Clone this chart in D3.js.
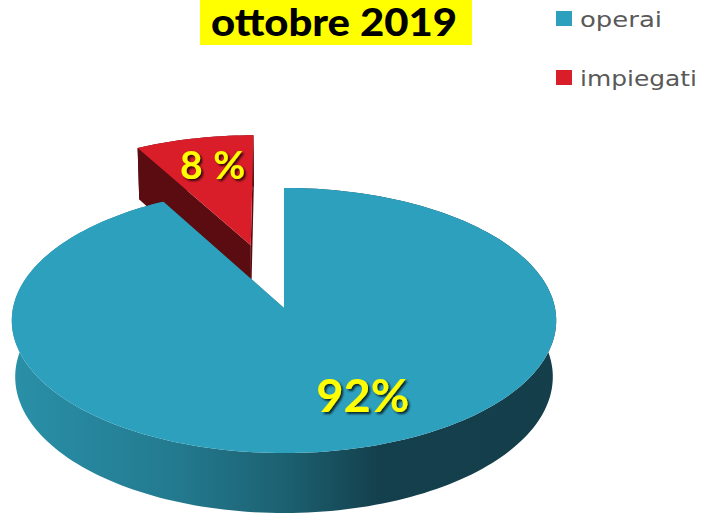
<!DOCTYPE html>
<html>
<head>
<meta charset="utf-8">
<script src="https://cdn.jsdelivr.net/npm/d3@7"></script>
<style>
  html, body { margin: 0; padding: 0; background: #ffffff; }
  svg { display: block; }
</style>
</head>
<body>
<svg id="chart" width="701" height="515"></svg>
<script>
// ---- data ----
const title = "ottobre 2019";
const categories = ["operai", "impiegati"];
const values = [92, 8];
const valueLabels = ["92%", "8%"];

// ---- styles ----
const topColors = ["#2da0bd", "#d91e2a"];
const sideColors = ["#1d6676", "#5a0c10"];
const explodeDist = [0, 140];
const labelRadius = [0.6, 0.62];
const labelShift = [[36, 6], [-2, -13]];
const labelSizes = [45, 39];
const labelWidths = [93, 65];
const labelAdjust = ["spacingAndGlyphs", "spacing"];

const W = 701, H = 515;
const svg = d3.select("#chart");
const defs = svg.append("defs");

// perspective projection of the 3D pie
const cx = 284, cy = 308, R = 271, thick = 65;
const phi = 29 * Math.PI / 180, D = 2514;
const sinP = Math.sin(phi), cosP = Math.cos(phi);
function project(X, Y, Z) {
  const yv = Z * sinP + Y * cosP;
  const zv = Z * cosP - Y * sinP;
  const f = D / (D + zv);
  return [cx + X * f, cy - yv * f];
}

// gradient for the outer wall of the big slice
const grad = defs.append("linearGradient")
  .attr("id", "wallGrad").attr("gradientUnits", "userSpaceOnUse")
  .attr("x1", cx - R).attr("y1", 0).attr("x2", cx + R).attr("y2", 0);
[[0, "#2990a8"], [0.3, "#237a8f"], [0.5, "#1c6171"], [0.68, "#143f4c"], [1, "#133e4a"]]
  .forEach(([o, c]) => grad.append("stop").attr("offset", o).attr("stop-color", c));

// text shadow
const filt = defs.append("filter").attr("id", "shadow")
  .attr("x", "-20%").attr("y", "-20%").attr("width", "140%").attr("height", "140%");
filt.append("feDropShadow").attr("dx", 2).attr("dy", 2).attr("stdDeviation", 1.2)
  .attr("flood-color", "#000000").attr("flood-opacity", 0.75);

const pie = d3.pie().sort(null).value(d => d)(values);
const line = d3.line();
const steps = 240;

// draw farther (exploded) slices first
const order = d3.range(pie.length).sort((a, b) => explodeDist[b] - explodeDist[a]);
const gPie = svg.append("g");

order.forEach(i => {
  const p = pie[i];
  const mid = (p.startAngle + p.endAngle) / 2;
  const ox = explodeDist[i] * Math.sin(mid), oz = explodeDist[i] * Math.cos(mid);
  const n = Math.max(8, Math.round(steps * (p.endAngle - p.startAngle) / (2 * Math.PI)));
  const angs = d3.range(n + 1).map(k => p.startAngle + (p.endAngle - p.startAngle) * k / n);
  const topArc = angs.map(a => project(ox + R * Math.sin(a), 0, oz + R * Math.cos(a)));
  const botArc = angs.map(a => project(ox + R * Math.sin(a), -thick, oz + R * Math.cos(a)));
  const cTop = project(ox, 0, oz), cBot = project(ox, -thick, oz);
  const fillSide = i === 0 ? "url(#wallGrad)" : sideColors[i];

  // outer wall
  gPie.append("path")
    .attr("d", line(topArc.concat(botArc.slice().reverse())) + "Z")
    .attr("fill", fillSide);
  // radial faces
  [0, n].forEach(k => {
    gPie.append("path")
      .attr("d", line([cTop, topArc[k], botArc[k], cBot]) + "Z")
      .attr("fill", sideColors[i]);
  });
  // top face
  gPie.append("path")
    .attr("d", line([cTop].concat(topArc)) + "Z")
    .attr("fill", topColors[i]);
});

// value labels
pie.forEach((p, i) => {
  const mid = (p.startAngle + p.endAngle) / 2;
  const ox = explodeDist[i] * Math.sin(mid), oz = explodeDist[i] * Math.cos(mid);
  const r = R * labelRadius[i];
  const pt = project(ox + r * Math.sin(mid), 0, oz + r * Math.cos(mid));
  svg.append("text")
    .attr("x", pt[0] + labelShift[i][0] - labelWidths[i] / 2).attr("y", pt[1] + labelShift[i][1])
    .attr("dominant-baseline", "central")
    .attr("font-family", "Lato, 'DejaVu Sans', sans-serif")
    .attr("font-weight", "bold").attr("font-size", labelSizes[i])
    .attr("textLength", labelWidths[i]).attr("lengthAdjust", labelAdjust[i])
    .attr("fill", "#ffff00").attr("filter", "url(#shadow)")
    .text(valueLabels[i]);
});

// title
svg.append("rect").attr("x", 200).attr("y", 0).attr("width", 272).attr("height", 45)
  .attr("fill", "#ffff00");
svg.append("text").attr("x", 211).attr("y", 36)
  .attr("font-family", "Lato, 'DejaVu Sans', sans-serif").attr("font-weight", "900")
  .attr("font-size", 37).attr("fill", "#000000")
  .attr("textLength", 246).attr("lengthAdjust", "spacingAndGlyphs")
  .text(title);

// legend
const legendLengths = [82, 117];
const legend = svg.append("g");
categories.forEach((c, i) => {
  const y = 11 + i * 59;
  legend.append("rect").attr("x", 556).attr("y", y).attr("width", 16).attr("height", 15)
    .attr("fill", topColors[i]);
  legend.append("text").attr("x", 580).attr("y", y + 16)
    .attr("font-family", "'DejaVu Sans', sans-serif").attr("font-size", 22)
    .attr("fill", "#595959")
    .attr("textLength", legendLengths[i]).attr("lengthAdjust", "spacingAndGlyphs")
    .text(c);
});
</script>
</body>
</html>
